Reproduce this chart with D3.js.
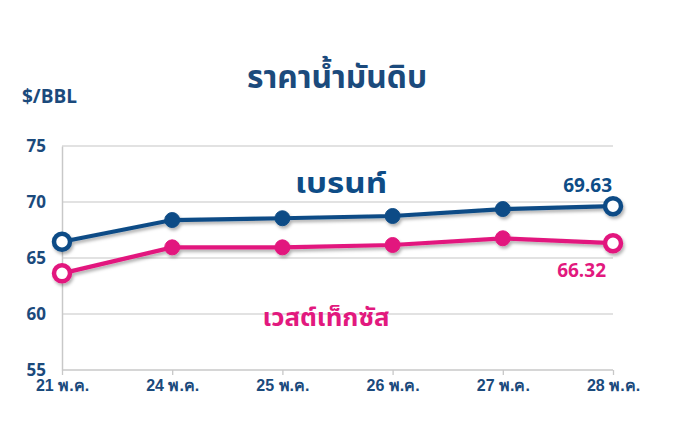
<!DOCTYPE html>
<html><head><meta charset="utf-8">
<script src="https://cdn.jsdelivr.net/npm/d3@7"></script>
<style>
html,body{margin:0;padding:0;background:#fff;}
svg{display:block;font-family:"Noto Sans Thai","Noto Sans","Open Sans",sans-serif;}
</style></head>
<body>
<svg id="chart" width="673" height="432"></svg>
<script>
const categories = ["21 พ.ค.","24 พ.ค.","25 พ.ค.","26 พ.ค.","27 พ.ค.","28 พ.ค."];
const brent = [66.45, 68.39, 68.55, 68.75, 69.37, 69.63];
const wti = [63.63, 65.95, 65.95, 66.16, 66.76, 66.32];
const yTicks = [55, 60, 65, 70, 75];
const title = "ราคาน้ำมันดิบ";
const unitLabel = "$/BBL";
const brentName = "เบรนท์";
const wtiName = "เวสต์เท็กซัส";

const blue = "#0e4c86", pink = "#e2197e", axisText = "#1b4a7c";
const svg = d3.select("#chart");
const x = d3.scalePoint().domain(categories).range([62, 613]);
const y = d3.scaleLinear().domain([55, 75]).range([370, 146]);

const defs = svg.append("defs");
const f = defs.append("filter").attr("id","sh").attr("x","-20%").attr("y","-50%").attr("width","140%").attr("height","200%");
f.append("feDropShadow").attr("dx",1.5).attr("dy",2.5).attr("stdDeviation",1.6).attr("flood-color","#000").attr("flood-opacity",0.3);

// gridlines
svg.append("g").selectAll("line").data(yTicks.slice(1)).join("line")
  .attr("x1",62).attr("x2",613).attr("y1",d=>y(d)).attr("y2",d=>y(d))
  .attr("stroke","#d9d9d9").attr("stroke-width",1.3);

// y axis
const ya = svg.append("g").attr("transform","translate(62,0)").call(d3.axisLeft(y).tickValues(yTicks).tickSize(0).tickPadding(16));
ya.select(".domain").attr("stroke","#c8c8c8").attr("stroke-width",1.5);
ya.selectAll("text").attr("fill",axisText).attr("font-size",17).attr("font-weight","bold").attr("font-family","'Open Sans','Noto Sans',sans-serif");

// x axis
const xa = svg.append("g").attr("transform","translate(0,370)").call(d3.axisBottom(x).tickSize(5).tickSizeOuter(0).tickPadding(5));
xa.select(".domain").attr("stroke","#c8c8c8").attr("stroke-width",1.5).attr("d","M62,0H613");
xa.selectAll("line").attr("stroke","#c8c8c8").attr("stroke-width",1.3);
xa.selectAll("text").attr("fill",axisText).attr("font-size",16).attr("font-weight","bold");

// title
svg.append("text").attr("x",337).attr("y",88).attr("text-anchor","middle")
  .attr("fill",axisText).attr("font-size",31).attr("font-weight","bold")
  .attr("textLength",180).attr("lengthAdjust","spacingAndGlyphs").text(title);
svg.append("text").attr("x",22).attr("y",103).attr("fill",axisText)
  .attr("font-size",19).attr("font-weight","bold").attr("font-family","'Open Sans','Noto Sans',sans-serif").text(unitLabel);

function series(vals, color){
  const g = svg.append("g").attr("filter","url(#sh)");
  const line = d3.line().x((d,i)=>x(categories[i])).y(d=>y(d));
  g.append("path").datum(vals).attr("d",line).attr("fill","none").attr("stroke",color).attr("stroke-width",4.2);
  g.selectAll("circle").data(vals).join("circle")
    .attr("cx",(d,i)=>x(categories[i])).attr("cy",d=>y(d))
    .attr("r",(d,i)=>(i===0||i===vals.length-1)?8:7.5)
    .attr("fill",(d,i)=>(i===0||i===vals.length-1)?"#fff":color)
    .attr("stroke",color).attr("stroke-width",(d,i)=>(i===0||i===vals.length-1)?4.5:1);
}
series(wti, pink);
series(brent, blue);

svg.append("text").attr("x",341).attr("y",193).attr("text-anchor","middle").attr("fill",blue)
  .attr("font-size",28).attr("font-weight","bold")
  .attr("textLength",92).attr("lengthAdjust","spacingAndGlyphs").text(brentName);
svg.append("text").attr("x",326).attr("y",326).attr("text-anchor","middle").attr("fill",pink)
  .attr("font-size",25).attr("font-weight","bold")
  .attr("textLength",127).attr("lengthAdjust","spacingAndGlyphs").text(wtiName);
svg.append("text").attr("x",612).attr("y",192).attr("text-anchor","end").attr("fill",blue)
  .attr("font-size",19).attr("font-weight","bold").attr("font-family","'Open Sans','Noto Sans',sans-serif").text(brent[brent.length-1].toFixed(2));
svg.append("text").attr("x",606).attr("y",277).attr("text-anchor","end").attr("fill",pink)
  .attr("font-size",19).attr("font-weight","bold").attr("font-family","'Open Sans','Noto Sans',sans-serif").text(wti[wti.length-1].toFixed(2));
</script>
</body></html>
